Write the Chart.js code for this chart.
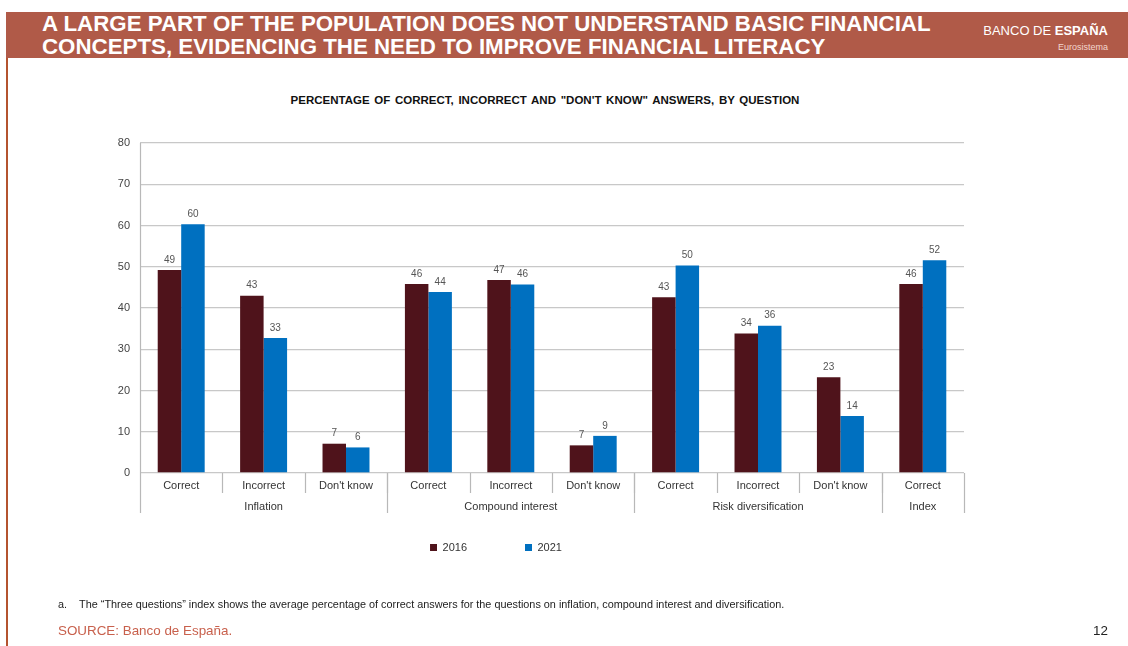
<!DOCTYPE html>
<html lang="en">
<head>
    <meta charset="UTF-8">
    <title>Financial literacy</title>
    <script src="https://cdn.jsdelivr.net/npm/chart.js"></script>
    <style>
        body {
            margin: 0;
            width: 1128px;
            height: 646px;
            position: relative;
            background: #fff;
            font-family: "Liberation Sans", Arial, sans-serif;
            overflow: hidden;
        }
        #border-left {
            position: absolute;
            left: 6px;
            top: 12px;
            width: 2px;
            height: 640px;
            background: #b4532f;
        }
        #header {
            position: absolute;
            left: 6px;
            top: 12px;
            width: 1122px;
            height: 46px;
            background: #b05a48;
        }
        #header h1 {
            position: absolute;
            left: 36px;
            top: 0;
            margin: 0;
            color: #fff;
            font-family: "Liberation Sans", Arial, sans-serif;
            font-weight: bold;
            font-size: 22.3px;
            line-height: 23px;
        }
        #logo {
            position: absolute;
            right: 20px;
            top: 11px;
            color: #fff;
            font-size: 13px;
            text-align: right;
        }
        #logo b { font-weight: bold; }
        #logo .sub {
            font-size: 9px;
            color: #f3d6ce;
            margin-top: 4px;
        }
        #chart-title {
            position: absolute;
            left: 0;
            width: 1090px;
            top: 94px;
            text-align: center;
            font-size: 11.5px;
            word-spacing: 1.5px;
            font-weight: bold;
            color: #111;
        }
        #chart-box {
            position: absolute;
            left: 0;
            top: 80px;
            width: 1128px;
            height: 560px;
        }
        #note {
            position: absolute;
            left: 58px;
            top: 598px;
            font-size: 10.85px;
            color: #222;
        }
        #source {
            position: absolute;
            left: 58px;
            top: 623px;
            font-size: 13.4px;
            color: #c8604c;
        }
        #page {
            position: absolute;
            right: 20px;
            top: 623px;
            font-size: 13.4px;
            color: #222;
        }
    </style>
</head>
<body>
    <div id="border-left"></div>
    <div id="header">
        <h1>A LARGE PART OF THE POPULATION DOES NOT UNDERSTAND BASIC FINANCIAL<br>CONCEPTS, EVIDENCING THE NEED TO IMPROVE FINANCIAL LITERACY</h1>
        <div id="logo">BANCO DE <b>ESPAÑA</b><div class="sub">Eurosistema</div></div>
    </div>
    <div id="chart-title">PERCENTAGE OF CORRECT, INCORRECT AND "DON'T KNOW" ANSWERS, BY QUESTION</div>
    <div id="chart-box"><canvas id="chart" width="1128" height="560"></canvas></div>
    <div id="note">a.&nbsp;&nbsp;&nbsp;&nbsp;The “Three questions” index shows the average percentage of correct answers for the questions on inflation, compound interest and diversification.</div>
    <div id="source">SOURCE: Banco de España.</div>
    <div id="page">12</div>

    <script>
        // Chart data
        const categories = ["Correct", "Incorrect", "Don't know", "Correct", "Incorrect", "Don't know",
            "Correct", "Incorrect", "Don't know", "Correct"];
        const groups = ["Inflation", "Compound interest", "Risk diversification", "Index"];
        const groupSizes = [3, 3, 3, 1];
        const values2016 = [49.2, 43.0, 7.1, 45.8, 46.8, 6.7, 42.6, 33.8, 23.2, 45.8];
        const values2021 = [60.3, 32.7, 6.2, 43.9, 45.7, 9.0, 50.3, 35.7, 13.8, 51.6];
        const yTicks = [0, 10, 20, 30, 40, 50, 60, 70, 80];

        const padLeft = 28;

        // value labels above the bars
        const valueLabels = {
            id: "valueLabels",
            afterDatasetsDraw(chart) {
                const ctx = chart.ctx;
                ctx.save();
                ctx.font = "10px 'Liberation Sans', Arial";
                ctx.fillStyle = "#555";
                ctx.textAlign = "center";
                ctx.textBaseline = "bottom";
                chart.data.datasets.forEach((ds, i) => {
                    chart.getDatasetMeta(i).data.forEach((bar, j) => {
                        ctx.fillText(Math.round(ds.data[j]), bar.x, bar.y - 5);
                    });
                });
                ctx.restore();
            }
        };

        // category labels, separators and group labels under the x axis
        const groupAxis = {
            id: "groupAxis",
            afterDraw(chart) {
                const ctx = chart.ctx;
                const x = chart.scales.x;
                const area = chart.chartArea;
                const bottom = area.bottom;
                const edge = (k) => {
                    if (k <= 0) return area.left;
                    if (k >= categories.length) return area.right;
                    return (x.getPixelForValue(k - 1) + x.getPixelForValue(k)) / 2;
                };
                ctx.save();
                ctx.font = "11px 'Liberation Sans', Arial";
                ctx.fillStyle = "#333";
                ctx.textAlign = "center";
                ctx.textBaseline = "middle";
                categories.forEach((c, i) => {
                    ctx.fillText(c, x.getPixelForValue(i), bottom + 13);
                });

                ctx.strokeStyle = "#b8b8b8";
                ctx.lineWidth = 1.2;
                // short ticks between categories
                for (let k = 1; k < categories.length; k++) {
                    const px = Math.round(edge(k)) + 0.5;
                    ctx.beginPath();
                    ctx.moveTo(px, bottom);
                    ctx.lineTo(px, bottom + 20);
                    ctx.stroke();
                }
                // long ticks between groups
                let start = 0;
                const bounds = [0];
                groupSizes.forEach((n, g) => {
                    const a = edge(start), b = edge(start + n);
                    ctx.fillText(groups[g], (a + b) / 2, bottom + 34);
                    start += n;
                    bounds.push(start);
                });
                bounds.forEach((k) => {
                    const px = Math.round(edge(k)) + 0.5;
                    ctx.beginPath();
                    ctx.moveTo(px, k === 0 ? area.top : bottom);
                    ctx.lineTo(px, bottom + 40);
                    ctx.stroke();
                });
                ctx.restore();
            }
        };

        new Chart(document.getElementById("chart").getContext("2d"), {
            type: "bar",
            data: {
                labels: categories,
                datasets: [
                    {
                        label: "2016",
                        data: values2016,
                        backgroundColor: "#4f131b",
                        categoryPercentage: 0.57,
                        barPercentage: 1.0,
                    },
                    {
                        label: "2021",
                        data: values2021,
                        backgroundColor: "#0070c0",
                        categoryPercentage: 0.57,
                        barPercentage: 1.0,
                    },
                ],
            },
            options: {
                responsive: false,
                maintainAspectRatio: false,
                animation: false,
                layout: {
                    padding: { top: 63, left: padLeft, right: 164, bottom: 77 },
                },
                plugins: {
                    legend: {
                        position: "bottom",
                        labels: {
                            boxWidth: 7,
                            boxHeight: 7,
                            padding: 58,
                            color: "#333",
                            font: { size: 11, family: "'Liberation Sans', Arial" },
                        },
                    },
                    tooltip: { enabled: false },
                },
                scales: {
                    x: {
                        grid: { display: false },
                        border: { display: false },
                        ticks: { display: false },
                        afterFit(scale) { scale.height = 11; },
                    },
                    y: {
                        min: 0,
                        max: 80,
                        afterBuildTicks(scale) {
                            scale.ticks = yTicks.map((v) => ({ value: v }));
                        },
                        grid: { color: "#c8c8c8", lineWidth: 1.3, drawTicks: false },
                        border: { display: false },
                        ticks: {
                            padding: 10,
                            color: "#444",
                            font: { size: 11, family: "'Liberation Sans', Arial" },
                        },
                        afterFit(scale) { scale.width = 140 - padLeft; },
                    },
                },
            },
            plugins: [valueLabels, groupAxis],
        });
    </script>
</body>
</html>
